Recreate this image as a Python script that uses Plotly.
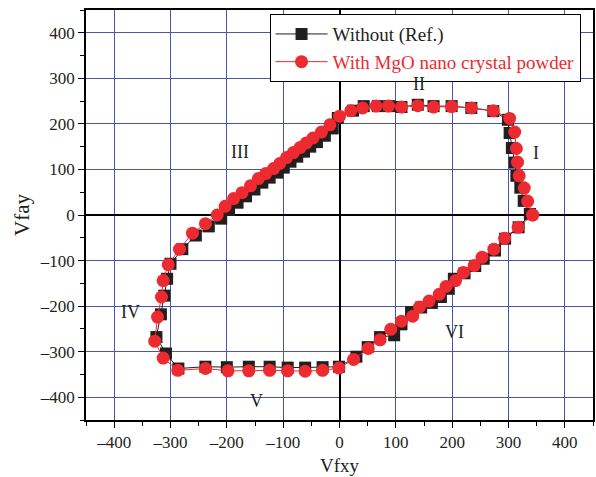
import plotly.graph_objects as go

# Loop traced counter-clockwise from the right-hand tip (regions I -> II -> III -> IV -> V -> VI)
ref_x = [338, 327, 321, 314, 311, 306, 302, 299,
         273, 234, 199, 167, 139, 110, 89, 68, 43, 24, -3,
         -12, -26, -40, -52, -63, -75, -87, -99, -110, -124, -137, -151, -166, -181, -196, -210, -232, -255,
         -279, -300, -306, -311, -317, -325, -308, -286,
         -238, -200, -161, -124, -92, -61, -30, -1, 30,
         50, 72, 97, 110, 127, 145, 164, 180, 194, 203, 222, 241, 256, 276, 294, 318, 338]
ref_y = [2, 31, 60, 86, 115, 147, 180, 209,
         228, 235, 239, 239, 242, 237, 239, 239, 239, 229, 213,
         190, 174, 160, 150, 139, 128, 117, 104, 93, 82, 71, 56, 41, 27, 11, -8, -25, -45,
         -75, -107, -140, -177, -218, -268, -304, -337,
         -333, -334, -333, -333, -335, -335, -334, -333, -311,
         -290, -268, -264, -240, -213, -203, -193, -180, -162, -140, -128, -112, -96, -78, -52, -27, 2]

mgo_x = [343, 334, 328, 319, 316, 314, 311, 302,
         273, 234, 199, 167, 139, 110, 87, 65, 41, 20, 0,
         -17, -32, -47, -59, -70, -82, -94, -106, -117, -131, -144, -158, -173, -188, -203, -217, -238, -261,
         -284, -304, -313, -316, -323, -328, -313, -287,
         -238, -198, -161, -124, -92, -61, -30, -1, 25,
         51, 72, 91, 110, 130, 142, 159, 177, 189, 206, 220, 239, 253, 274, 293, 317, 343]
mgo_y = [0, 30, 59, 86, 116, 146, 182, 212,
         229, 235, 238, 237, 240, 237, 239, 239, 235, 229, 217,
         198, 182, 169, 158, 148, 137, 126, 113, 102, 91, 80, 64, 49, 36, 19, 0, -19, -40,
         -75, -109, -144, -180, -224, -277, -314, -341,
         -337, -342, -342, -341, -342, -343, -341, -336, -317,
         -293, -274, -251, -233, -222, -202, -189, -174, -157, -144, -126, -111, -93, -75, -51, -27, 0]

tick_vals = [-400, -300, -200, -100, 0, 100, 200, 300, 400]
tick_text = ["\u2013400", "\u2013300", "\u2013200", "\u2013100", "0", "100", "200", "300", "400"]

region_labels = ["I", "II", "III", "IV", "V", "VI"]
region_x = [349, 142, -177, -371, -147, 204]
region_y = [136, 287, 139, -212, -408, -257]

BLACK = "#231f20"
RED = "#ec2a30"
GRID = "#4b57a6"
FONT = "Liberation Serif"

fig = go.Figure()
fig.add_trace(go.Scatter(
    x=ref_x, y=ref_y, mode="lines+markers", name="Without (Ref.)",
    line=dict(color=BLACK, width=1),
    marker=dict(symbol="square", size=12, color=BLACK),
))
fig.add_trace(go.Scatter(
    x=mgo_x, y=mgo_y, mode="lines+markers",
    name='<span style="color:#ec2a30">With MgO nano crystal powder</span>',
    line=dict(color=RED, width=1),
    marker=dict(symbol="circle", size=13, color=RED),
))

for t, xv, yv in zip(region_labels, region_x, region_y):
    fig.add_annotation(x=xv, y=yv, text=t, showarrow=False,
                       font=dict(family=FONT, size=18, color="#231f20"))

# x-axis title placed as a paper annotation at the bottom edge, under the tick labels
fig.add_annotation(x=0.5, y=-0.139, xref="paper", yref="paper", xanchor="center", yanchor="bottom",
                   text="Vfxy", showarrow=False, borderpad=0,
                   font=dict(family=FONT, size=19, color="#231f20"))

axis_common = dict(
    range=[-450, 450],
    tickmode="array", tickvals=tick_vals, ticktext=tick_text,
    ticks="outside", ticklen=6, tickwidth=1, tickcolor="black",
    minor=dict(ticks="outside", dtick=50, tick0=0, ticklen=4, tickcolor="black", showgrid=False),
    showgrid=True, gridcolor=GRID, gridwidth=1,
    zeroline=True, zerolinecolor="black", zerolinewidth=1.5,
    showline=True, linecolor="black", linewidth=1.5, mirror=True,
    tickfont=dict(family=FONT, size=17, color="#231f20"),
)

fig.update_xaxes(**axis_common)
fig.update_yaxes(**axis_common,
                 title=dict(text="Vfay", font=dict(family=FONT, size=21, color="#231f20"), standoff=4))

fig.update_layout(
    width=596, height=477,
    margin=dict(l=86, r=1, t=10, b=57),
    plot_bgcolor="white", paper_bgcolor="white",
    font=dict(family=FONT, color="#231f20"),
    legend=dict(
        x=0.362, y=0.99, xanchor="left", yanchor="top",
        bgcolor="white", bordercolor="black", borderwidth=1,
        font=dict(family=FONT, size=19, color="#231f20"),
        itemwidth=52, tracegroupgap=0,
    ),
)

fig.write_html("out.html")
